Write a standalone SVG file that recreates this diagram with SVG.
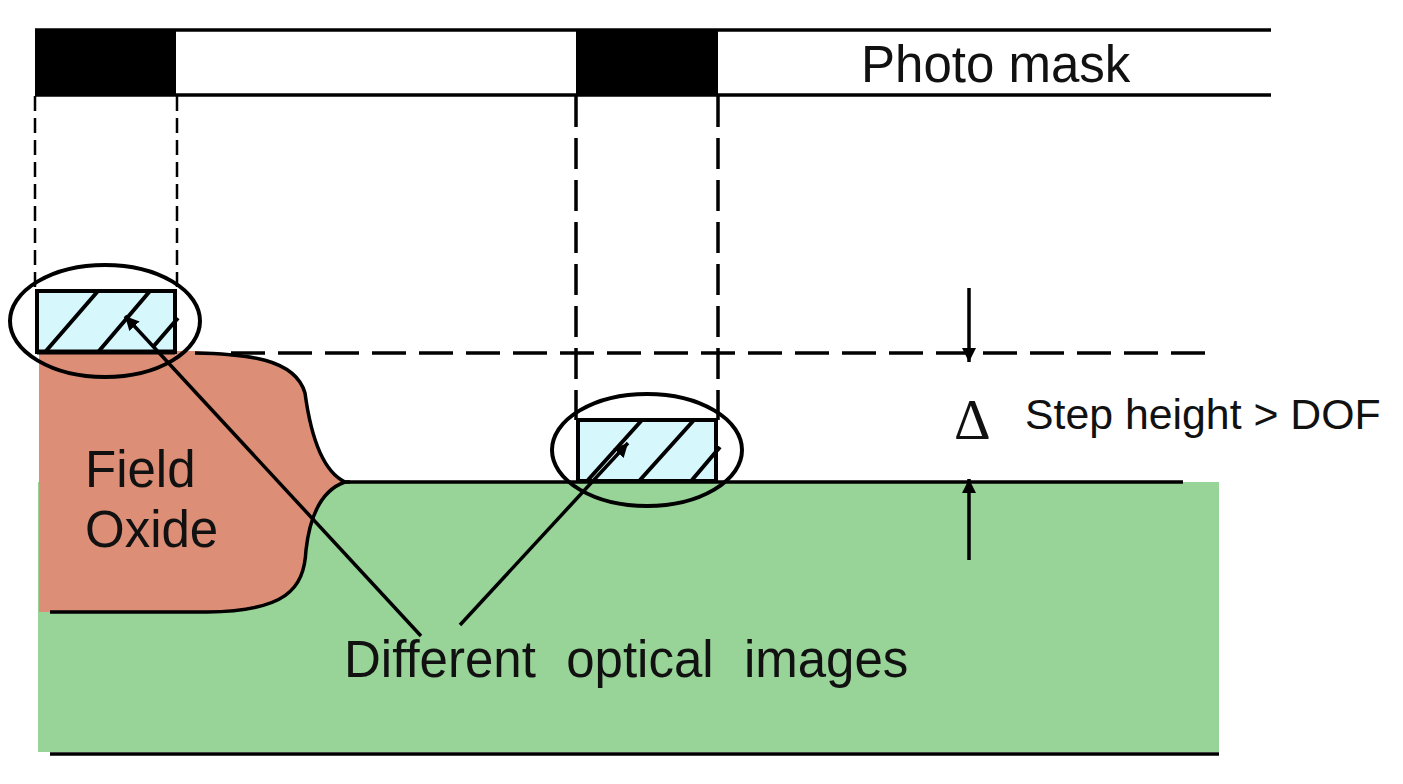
<svg xmlns="http://www.w3.org/2000/svg" width="1403" height="784" viewBox="0 0 1403 784">
<defs>
<style>
text{font-family:"Liberation Sans",Arial,sans-serif;fill:#111}
text.delta{font-family:"Liberation Serif","Times New Roman",serif}
.l{stroke:#000;stroke-width:3.5;fill:none}
.t{stroke:#000;stroke-width:4;fill:none}
.h{stroke:#000;stroke-width:4;fill:none}
.box{fill:#d6f8fd;stroke:#000;stroke-width:4}
</style>
<marker id="a" markerUnits="userSpaceOnUse" markerWidth="16" markerHeight="14" refX="14" refY="7" orient="auto"><path d="M0 0L14 7L0 14Z" fill="#000"/></marker>
</defs>
<rect width="1403" height="784" fill="#fff"/>
<g id="substrate"><rect x="38" y="482" width="1181" height="270" fill="#98d398"/><line class="l" x1="50" y1="754" x2="1219" y2="754"/></g>
<g id="field-oxide">
<path d="M39 351H195C245 354 295 358 305 393C310 430 320 470 345 482C322 490 310 515 306 550C304 590 285 611 207 612H39Z" fill="#dc8e76"/>
<path class="l" d="M195 353C245 354 295 358 305 393C310 430 320 470 345 482H350M345 482C322 490 310 515 306 550C304 590 285 611 207 612H50"/>
<text x="85" y="487" font-size="51">Field</text>
<text x="85" y="547" font-size="51">Oxide</text>
</g>
<g id="photo-mask">
<rect x="35" y="29" width="141" height="67" fill="#000"/>
<rect x="576" y="29" width="142" height="67" fill="#000"/>
<line class="l" x1="35" y1="30" x2="1271" y2="30"/>
<line class="l" x1="35" y1="95" x2="1271" y2="95"/>
<text x="861" y="82" font-size="51">Photo mask</text>
</g>
<g id="surface"><line class="l" x1="345" y1="482" x2="1183" y2="482"/></g>
<g id="image-left">
<rect class="box" x="37" y="291" width="138" height="61"/>
<path class="h" d="M46 351L98 291M99 351L150 291M153 347L178 318"/>
<line x1="37" y1="352" x2="175" y2="352" stroke="#000" stroke-width="5"/>
<ellipse class="t" cx="105" cy="321" rx="95" ry="56"/>
</g>
<g id="image-right">
<rect class="box" x="578" y="420" width="138" height="61"/>
<path class="h" d="M588 480L642 420M640 480L694 420M692 480L720 447"/>
<ellipse class="t" cx="647" cy="450" rx="95" ry="56"/>
</g>
<g id="connectors">
<g stroke="#000" fill="none">
<path stroke-width="2.5" stroke-dasharray="15 7" d="M35 96V290M177 96V290"/>
<path stroke-width="3.5" stroke-dasharray="31 11" d="M576 96V420M718 96V420"/>
<path stroke-width="3.5" stroke-dasharray="34 13" d="M231 353H1208"/>
</g>
<line class="l" x1="969" y1="288" x2="969" y2="362" marker-end="url(#a)"/>
<line class="l" x1="969" y1="560" x2="969" y2="479" marker-end="url(#a)"/>
<line class="l" x1="421" y1="636" x2="125" y2="316" marker-end="url(#a)"/>
<line class="l" x1="460" y1="625" x2="628" y2="443" marker-end="url(#a)"/>
</g>
<g id="labels">
<text class="delta" x="954" y="439" font-size="57">Δ</text>
<text x="1025" y="429" font-size="42.8">Step height &gt; DOF</text>
<text x="344" y="677" font-size="51" word-spacing="1" xml:space="preserve">Different  optical  images</text>
</g>
</svg>
